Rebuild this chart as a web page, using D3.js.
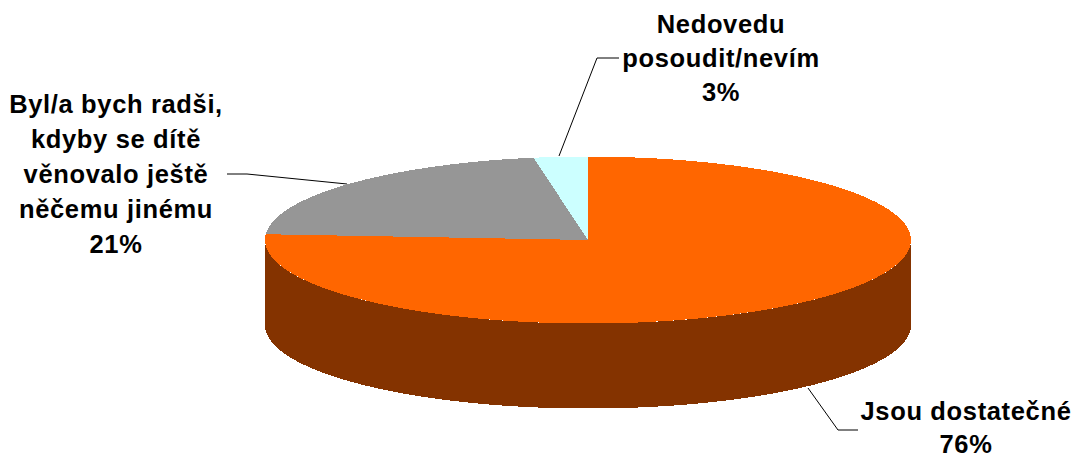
<!DOCTYPE html>
<html>
<head>
<meta charset="utf-8">
<script src="https://cdn.jsdelivr.net/npm/d3@7"></script>
<style>
html, body { margin: 0; background: #fff; }
svg { display: block; }
text { font-family: "Liberation Sans", Arial, sans-serif; font-weight: bold; font-size: 25.5px; letter-spacing: 0.65px; fill: #000; text-anchor: middle; }
</style>
</head>
<body>
<script>
var categories = ["Jsou dostatečné", "Byl/a bych radši, kdyby se dítě věnovalo ještě něčemu jinému", "Nedovedu posoudit/nevím"];
var values = [76.1, 21.2, 2.7];
var percentLabels = ["76%", "21%", "3%"];
var colors = ["#ff6600", "#969696", "#ccffff"];
var sideColor = "#843300";
var labelLines = [
	["Jsou dostatečné", "76%"],
	["Byl/a bych radši,", "kdyby se dítě", "věnovalo ještě", "něčemu jinému", "21%"],
	["Nedovedu", "posoudit/nevím", "3%"]
];

var w = 1073, h = 455;
var cx = 588, cy = 240, rx = 323, ry = 83.5, depth = 85;

var svg = d3.select("body").append("svg").attr("width", w).attr("height", h);

// side wall, only the front half of the ellipse is visible
var front = d3.range(90, 270.5, 1).map(function(d) { return d * Math.PI / 180; });
var side = d3.area()
	.x(function(a) { return cx + rx * Math.sin(a); })
	.y0(function(a) { return cy - ry * Math.cos(a); })
	.y1(function(a) { return cy - ry * Math.cos(a) + depth; });
svg.append("path").attr("d", side(front)).attr("fill", sideColor).attr("shape-rendering", "crispEdges");

// top, drawn as a round pie and squashed into the ellipse
var pie = d3.pie().sort(null);
var arc = d3.arc().innerRadius(0).outerRadius(rx);
svg.append("g")
	.attr("transform", "translate(" + cx + "," + cy + ") scale(1," + (ry / rx) + ")")
	.selectAll("path").data(pie(values)).enter().append("path")
	.attr("d", arc)
	.attr("fill", function(d, i) { return colors[i]; })
	.attr("shape-rendering", "crispEdges");

// leader lines
var leaders = [
	[[808, 388], [838, 430], [858, 430]],
	[[347, 184], [247, 174], [227, 174]],
	[[559, 156], [597, 58], [619, 58]]
];
svg.selectAll(".leader").data(leaders).enter().append("path")
	.attr("class", "leader")
	.attr("d", d3.line())
	.attr("fill", "none").attr("stroke", "#000").attr("stroke-width", 1);

// labels
var labelPos = [[966, 420, 33], [116, 113, 35], [721, 32.5, 34]];
var labels = svg.selectAll(".label").data(labelLines).enter().append("text")
	.attr("class", "label")
	.attr("x", function(d, i) { return labelPos[i][0]; })
	.attr("y", function(d, i) { return labelPos[i][1]; });
labels.selectAll("tspan").data(function(d, i) {
	return d.map(function(t) { return { t: t, i: i }; });
}).enter().append("tspan")
	.attr("x", function(d) { return labelPos[d.i][0]; })
	.attr("dy", function(d, j) { return j ? labelPos[d.i][2] : 0; })
	.text(function(d) { return d.t; });
</script>
</body>
</html>
